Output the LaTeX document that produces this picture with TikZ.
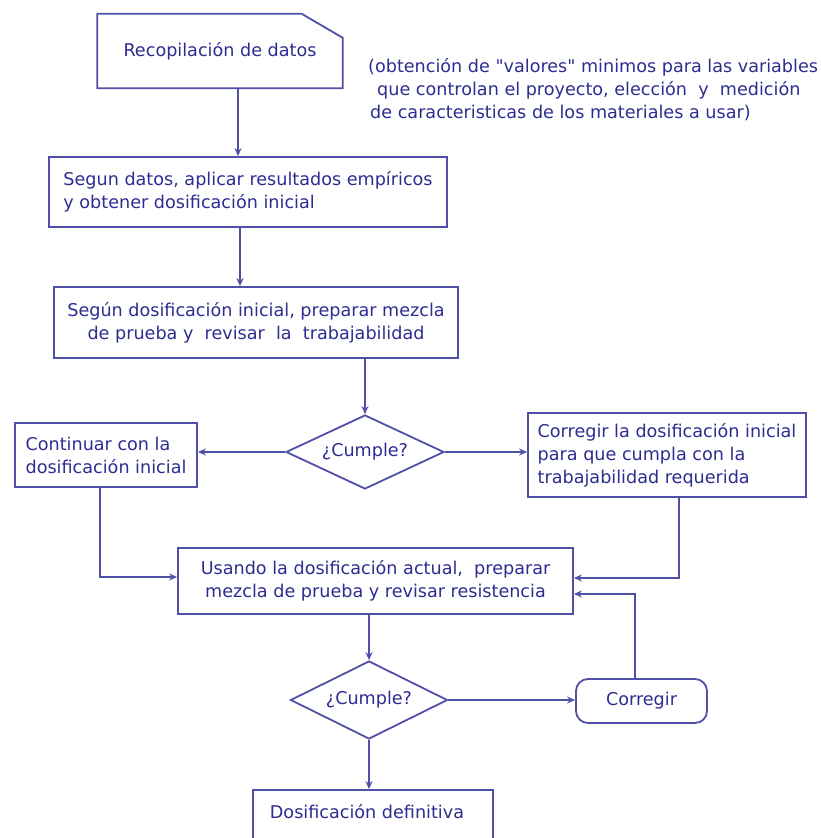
\documentclass[tikz,border=0pt]{standalone}
\usepackage{fontspec}
\newfontfamily\dvs{DejaVu Sans}
\usetikzlibrary{shapes.geometric,arrows.meta}
\definecolor{linecol}{RGB}{80,80,168}
\definecolor{textcol}{RGB}{45,45,145}
\begin{document}
\begin{tikzpicture}[x=1pt,y=-1pt,
  every node/.style={text=textcol,font=\dvs\fontsize{17.6}{23}\selectfont},
  boxs/.style={draw=linecol,line width=1.8pt,rectangle,inner sep=0pt},
  dec/.style={draw=linecol,line width=1.8pt,diamond,aspect=2.13,inner sep=0pt},
  arr/.style={draw=linecol,line width=1.8pt,-{Stealth[length=8pt,width=7pt]}},
  ln/.style={draw=linecol,line width=1.8pt}]
\clip (0,0) rectangle (821,838);
\fill[white] (0,0) rectangle (821,838);
% top node with cut corner
\node (n1) [minimum width=245pt,minimum height=74pt,inner sep=0pt] at (220,51) {Recopilación de datos};
\draw[ln] (n1.south west) -- (n1.north west) -- ([xshift=-41pt]n1.north east) -- ([yshift=-24pt]n1.north east) -- (n1.south east) -- cycle;
\node (note) [anchor=north west,align=left,inner sep=0pt] at (368,58) {(obtención de "valores" minimos para las variables\\\hspace{9pt}que controlan el proyecto, elección\ \ y\ \ medición\\\hspace{2pt}de caracteristicas de los materiales a usar)};
\node (n2) [boxs,minimum width=398pt,minimum height=70pt,align=left] at (248,192) {Segun datos, aplicar resultados empíricos\\y obtener dosificación inicial};
\node (n3) [boxs,minimum width=404pt,minimum height=71pt,align=center] at (256,322.5) {Según dosificación inicial, preparar mezcla\\de prueba y\ \ revisar\ \ la\ \ trabajabilidad};
\node (d1) [dec,minimum width=158pt,minimum height=74pt] at (365,452) {¿Cumple?};
\node (n4) [boxs,minimum width=182pt,minimum height=64pt,align=left] at (106,455) {Continuar con la\\dosificación inicial};
\node (n5) [boxs,minimum width=278pt,minimum height=84pt,align=left] at (667,455) {Corregir la dosificación inicial\\para que cumpla con la\\trabajabilidad requerida};
\node (n6) [boxs,minimum width=395pt,minimum height=66pt,align=center] at (375.5,581) {Usando la dosificación actual,\ \ preparar\\mezcla de prueba y\ revisar resistencia};
\node (d2) [dec,minimum width=157pt,minimum height=78pt] at (369,700) {¿Cumple?};
\node (n7) [boxs,rounded corners=12pt,minimum width=131pt,minimum height=44pt] at (641.5,701) {Corregir};
\node (n8) [boxs,minimum width=240pt,minimum height=60pt] at (373,820) {};
\node (n8t) [inner sep=0pt] at (367,812) {Dosificación definitiva};
% connectors
\draw[arr] (n1.south) ++(18,0) coordinate (c1) -- (c1 |- n2.north);
\draw[arr] (n2.south) ++(-8,0) coordinate (c2) -- (c2 |- n3.north);
\draw[arr] (n3.south -| d1.north) -- (d1.north);
\draw[arr] (d1.west) -- (d1.west -| n4.east);
\draw[arr] (d1.east) -- (d1.east -| n5.west);
\draw[arr] (n4.south) ++(-6,0) coordinate (c4) |- ([yshift=4pt]n6.west);
\draw[arr] (n5.south) ++(12,0) coordinate (c5) |- ([yshift=3pt]n6.east);
\draw[arr] (n6.south -| d2.north) -- (d2.north);
\draw[arr] (d2.east) -- (d2.east -| n7.west);
\draw[arr] (n7.north) ++(-6.5,0) coordinate (c7) |- ([yshift=-13pt]n6.east);
\draw[arr] (d2.south) -- (d2.south |- n8.north);
\end{tikzpicture}
\end{document}
